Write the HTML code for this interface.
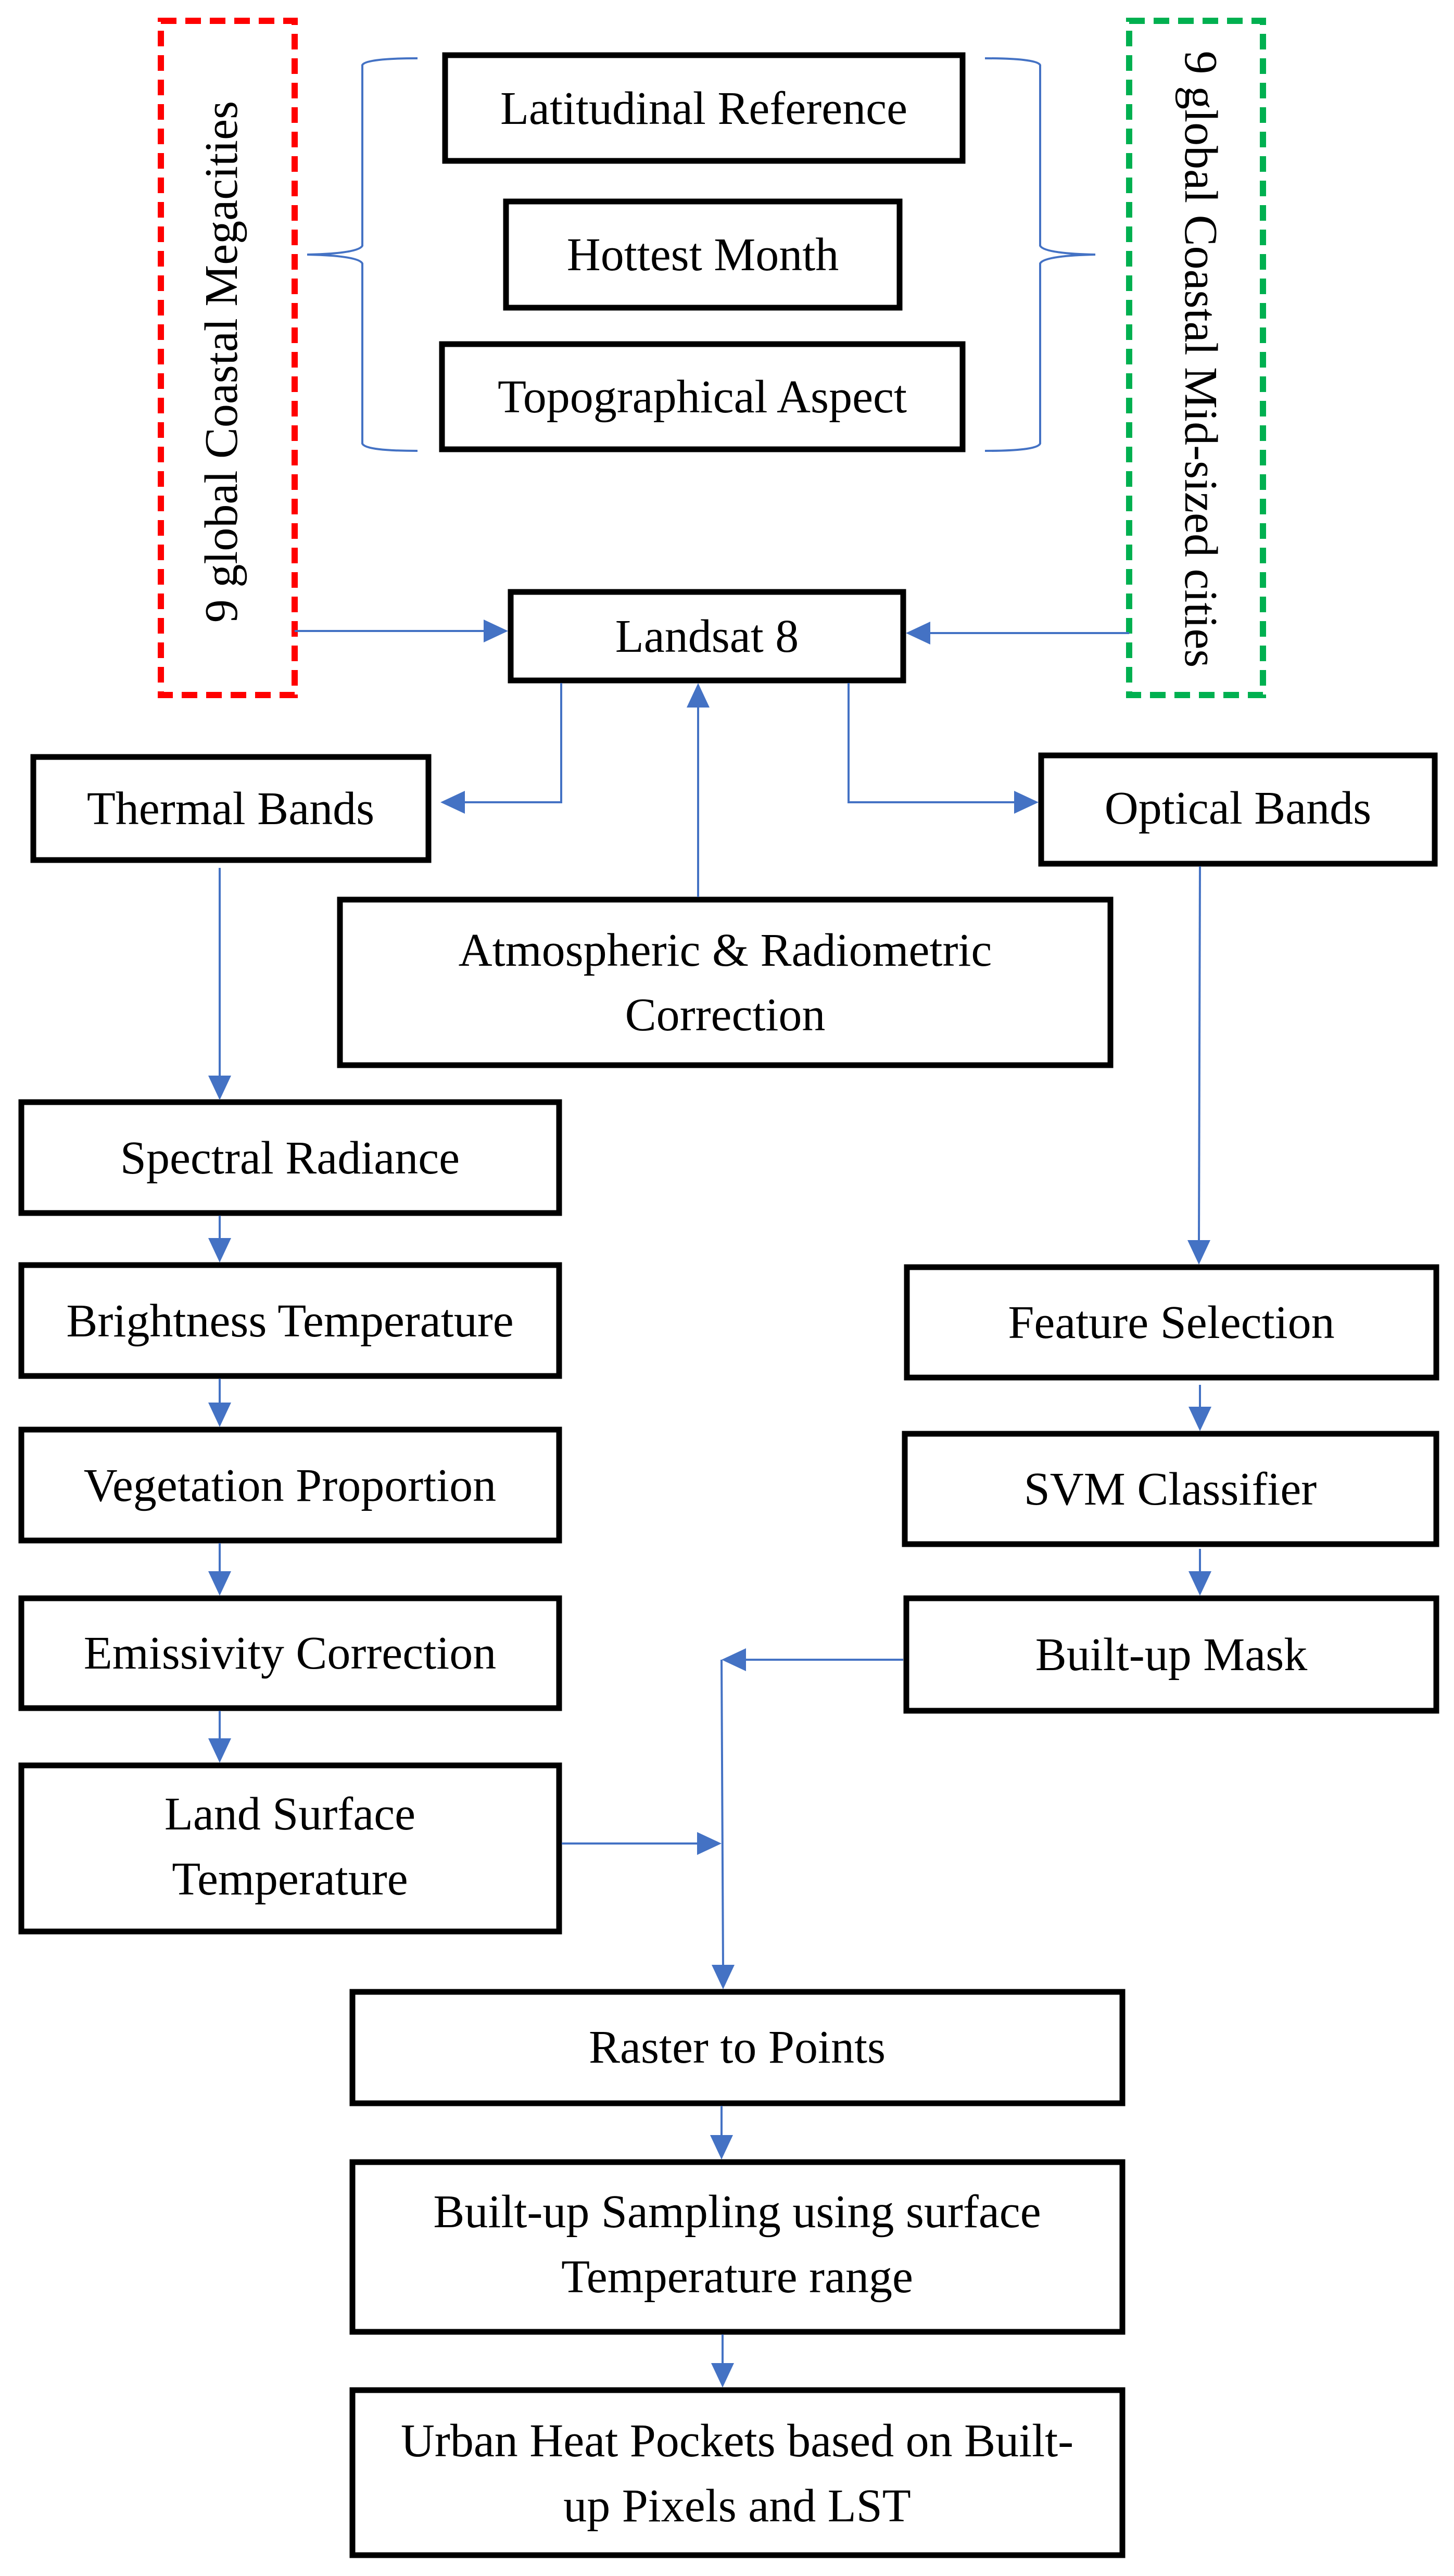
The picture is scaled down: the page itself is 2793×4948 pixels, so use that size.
<!DOCTYPE html>
<html><head><meta charset="utf-8"><style>
html,body{margin:0;padding:0;background:#fff;}
svg{display:block;}
text{font-family:"Liberation Serif",serif;font-size:90px;fill:#000;text-anchor:middle;}
</style></head><body>
<svg width="2793" height="4948" viewBox="0 0 2793 4948" xmlns="http://www.w3.org/2000/svg">
<rect width="2793" height="4948" fill="#fff"/>
<rect x="309" y="40" width="257" height="1295" fill="none" stroke="#ff0000" stroke-width="12" stroke-dasharray="30 17"/>
<rect x="2169" y="40" width="257" height="1295" fill="none" stroke="#00b050" stroke-width="12" stroke-dasharray="30 17"/>
<text transform="translate(455,695) rotate(-90)" font-size="92">9 global Coastal Megacities</text>
<text transform="translate(2277,690) rotate(90)" font-size="92">9 global Coastal Mid-sized cities</text>
<g fill="none" stroke="#4472c4" stroke-width="4">
<path d="M802 112 C740 112 700 116 696 125 L696 472 C690 484 640 488 590 489 C640 490 690 494 696 506 L696 852 C700 862 740 866 802 866"/>
<path d="M1892 112 C1954 112 1994 116 1998 125 L1998 472 C2004 484 2054 488 2104 489 C2054 490 2004 494 1998 506 L1998 852 C1994 862 1954 866 1892 866"/>
</g>
<g fill="none" stroke="#000" stroke-width="11">
<rect x="855" y="106" width="994" height="203"/>
<rect x="972" y="387" width="756" height="204"/>
<rect x="849" y="661" width="1000" height="202"/>
<rect x="981" y="1137" width="754" height="170"/>
<rect x="64" y="1454" width="759" height="198"/>
<rect x="2000" y="1451" width="756" height="208"/>
<rect x="653" y="1728" width="1480" height="318"/>
<rect x="41" y="2117" width="1033" height="213"/>
<rect x="41" y="2430" width="1033" height="213"/>
<rect x="41" y="2746" width="1033" height="213"/>
<rect x="41" y="3070" width="1033" height="211"/>
<rect x="41" y="3391" width="1033" height="319"/>
<rect x="1742" y="2434" width="1017" height="212"/>
<rect x="1738" y="2754" width="1021" height="212"/>
<rect x="1741" y="3070" width="1018" height="216"/>
<rect x="677" y="3826" width="1479" height="214"/>
<rect x="677" y="4153" width="1479" height="326"/>
<rect x="677" y="4591" width="1479" height="317"/>
</g>
<text x="1352" y="238">Latitudinal Reference</text>
<text x="1350" y="519">Hottest Month</text>
<text x="1349" y="792">Topographical Aspect</text>
<text x="1358" y="1252">Landsat 8</text>
<text x="443" y="1583">Thermal Bands</text>
<text x="2378" y="1582">Optical Bands</text>
<text x="1393" y="1855">Atmospheric &amp; Radiometric</text>
<text x="1393" y="1979">Correction</text>
<text x="557" y="2254">Spectral Radiance</text>
<text x="557" y="2567">Brightness Temperature</text>
<text x="557" y="2883">Vegetation Proportion</text>
<text x="557" y="3205">Emissivity Correction</text>
<text x="557" y="3514">Land Surface</text>
<text x="557" y="3639">Temperature</text>
<text x="2250" y="2570">Feature Selection</text>
<text x="2248" y="2890">SVM Classifier</text>
<text x="2250" y="3208">Built-up Mask</text>
<text x="1416" y="3962">Raster to Points</text>
<text x="1416" y="4278">Built-up Sampling using surface</text>
<text x="1416" y="4403">Temperature range</text>
<text x="1416" y="4718">Urban Heat Pockets based on Built-</text>
<text x="1416" y="4843">up Pixels and LST</text>
<g fill="none" stroke="#4472c4" stroke-width="4">
<line x1="566" y1="1212" x2="940" y2="1212"/>
<line x1="2169" y1="1216" x2="1780" y2="1216"/>
<polyline points="1078,1312 1078,1541 890,1541"/>
<polyline points="1630,1312 1630,1541 1955,1541"/>
<line x1="1341" y1="1723" x2="1341" y2="1355"/>
<line x1="422" y1="1667" x2="422" y2="2070"/>
<line x1="422" y1="2335" x2="422" y2="2385"/>
<line x1="422" y1="2648" x2="422" y2="2700"/>
<line x1="422" y1="2964" x2="422" y2="3022"/>
<line x1="422" y1="3286" x2="422" y2="3345"/>
<line x1="2305" y1="1664" x2="2303" y2="2385"/>
<line x1="2305" y1="2660" x2="2305" y2="2708"/>
<line x1="2305" y1="2975" x2="2305" y2="3024"/>
<line x1="1735" y1="3188" x2="1430" y2="3188"/>
<polyline points="1386,3188 1389,3780"/>
<line x1="1079" y1="3541" x2="1340" y2="3541"/>
<line x1="1386" y1="4045" x2="1386" y2="4108"/>
<line x1="1388" y1="4484" x2="1388" y2="4546"/>
</g>
<g fill="#4472c4">
<polygon points="976,1212 929,1190 929,1234"/>
<polygon points="1740,1216 1787,1194 1787,1238"/>
<polygon points="846,1541 893,1519 893,1563"/>
<polygon points="1995,1541 1948,1519 1948,1563"/>
<polygon points="1341,1312 1319,1359 1363,1359"/>
<polygon points="422,2113 400,2066 444,2066"/>
<polygon points="422,2425 400,2378 444,2378"/>
<polygon points="422,2741 400,2694 444,2694"/>
<polygon points="422,3065 400,3018 444,3018"/>
<polygon points="422,3386 400,3339 444,3339"/>
<polygon points="2303,2429 2281,2382 2325,2382"/>
<polygon points="2305,2749 2283,2702 2327,2702"/>
<polygon points="2305,3065 2283,3018 2327,3018"/>
<polygon points="1386,3188 1433,3166 1433,3210"/>
<polygon points="1386,3541 1339,3519 1339,3563"/>
<polygon points="1389,3821 1367,3774 1411,3774"/>
<polygon points="1386,4148 1364,4101 1408,4101"/>
<polygon points="1388,4586 1366,4539 1410,4539"/>
</g>
</svg>
</body></html>
